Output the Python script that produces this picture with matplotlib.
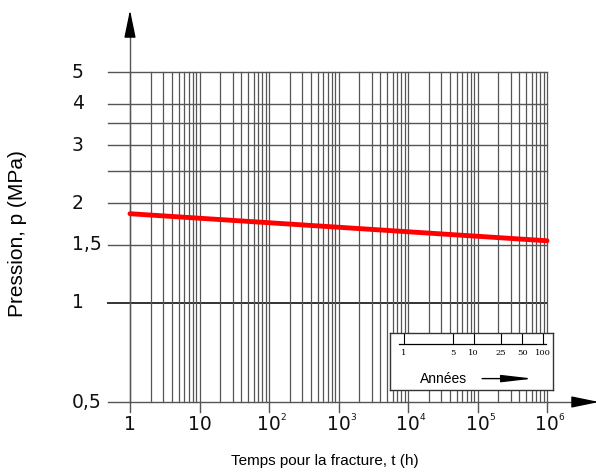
import numpy as np
import matplotlib
matplotlib.use("Agg")
import matplotlib.pyplot as plt

# data
t_hours = [1, 1e6]
pression = [1.86, 1.54]
y_grid = [1, 1.5, 2, 2.5, 3, 3.5, 4, 5]
y_labels = {0.5: "0,5", 1: "1", 1.5: "1,5", 2: "2", 3: "3", 4: "4", 5: "5"}
x_decades = [1, 10, 1e2, 1e3, 1e4, 1e5, 1e6]
x_base = ["1", "10", "10", "10", "10", "10", "10"]
x_exp = ["", "", "2", "3", "4", "5", "6"]
annees_ticks = [1, 5, 10, 25, 50, 100]
h_par_an = 8760

W, H = 596, 472
fig = plt.figure(figsize=(W / 100, H / 100), dpi=100)

# grid area in pixels: x 130..547, y 72 (p=5)..402 (p=0.5)
x0, x1, ytop, ybot = 130, 547, 72, 402
ax = fig.add_axes([x0 / W, 1 - ybot / H, (x1 - x0) / W, (ybot - ytop) / H])
ax.set_xscale("log")
ax.set_yscale("log")
ax.set_xlim(1, 1e6)
ax.set_ylim(0.5, 5)
ax.axis("off")

px_dec_x = (x1 - x0) / 6.0
px_dec_y = (ybot - ytop) / 1.0
left_ext = 10 ** (-(x0 - 108) / px_dec_x)
grid_col = "#555555"

# horizontal grid lines
for y in y_grid:
    col = "#333333" if y == 1 else grid_col
    lw = 1.4 if y == 1 else 1.0
    ax.plot([left_ext, 1e6], [y, y], color=col, lw=lw, clip_on=False, zorder=1)

# vertical grid lines 1..9 per decade
for d in range(6):
    for k in range(1, 10):
        x = k * 10 ** d
        ax.plot([x, x], [0.5, 5], color=grid_col, lw=0.9, clip_on=False, zorder=1)
ax.plot([1e6, 1e6], [0.5, 5], color=grid_col, lw=0.9, clip_on=False, zorder=1)

# decade ticks below axis
y_tick_low = 10 ** (np.log10(0.5) - 10 / px_dec_y)
for x in x_decades:
    ax.plot([x, x], [0.5, y_tick_low], color=grid_col, lw=1.0, clip_on=False)

# axis lines (grey) with black arrow heads
y_top_line = 10 ** (np.log10(5) + 40 / px_dec_y)
ax.plot([1, 1], [0.5, y_top_line], color=grid_col, lw=1.0, clip_on=False)
x_right_line = 10 ** (6 + 33 / px_dec_x)
ax.plot([left_ext, x_right_line], [0.5, 0.5], color=grid_col, lw=1.0, clip_on=False)
head = dict(arrowstyle="-|>,head_length=1.7,head_width=0.35", color="black",
            lw=1.0, shrinkA=0, shrinkB=0)
ax.annotate("", xy=(x0 / W, 1 - 10 / H), xytext=(x0 / W, 1 - 36 / H),
            xycoords="figure fraction", textcoords="figure fraction",
            arrowprops=head)
ax.annotate("", xy=(599 / W, 1 - ybot / H), xytext=(575 / W, 1 - ybot / H),
            xycoords="figure fraction", textcoords="figure fraction",
            arrowprops=head)

# red curve
ax.plot(t_hours, pression, color="#ff0000", lw=3.5, solid_capstyle="round",
        clip_on=False, zorder=5)

# tick labels
lbl_font = dict(fontsize=13.5, color="#111111", family="DejaVu Sans")
for y, s in y_labels.items():
    ax.text(72 / W, 1 - (ytop + (np.log10(5) - np.log10(y)) * px_dec_y) / H, s,
            ha="left", va="center", transform=fig.transFigure, **lbl_font)
y_lab = 10 ** (np.log10(0.5) - 22 / px_dec_y)
for x, b, e in zip(x_decades, x_base, x_exp):
    ax.text(x, y_lab, b, ha="center", va="center", **lbl_font)
    if e:
        ax.annotate(e, xy=(x, y_lab), xytext=(8.5, 5), textcoords="offset points",
                    ha="left", va="center", fontsize=6.5, family="DejaVu Sans",
                    color="#111111", annotation_clip=False)

fig.text(18 / W, 1 - 234 / H, "Pression, p (MPa)", rotation=90,
         ha="center", va="center", fontsize=15, family="Liberation Sans")
fig.text(325 / W, 1 - 461 / H, "Temps pour la fracture, t (h)",
         ha="center", va="center", fontsize=11, family="Liberation Sans")

# inset: years scale, aligned with hours axis
bx0, bx1, by0, by1 = 390, 553, 333, 390
yr_lo = 10 ** ((bx0 - x0) / px_dec_x) / h_par_an
yr_hi = 10 ** ((bx1 - x0) / px_dec_x) / h_par_an
ins = fig.add_axes([bx0 / W, 1 - by1 / H, (bx1 - bx0) / W, (by1 - by0) / H])
ins.set_xscale("log")
ins.set_xlim(yr_lo, yr_hi)
ins.set_ylim(0, 1)
ins.set_xticks([])
ins.set_yticks([])
ins.minorticks_off()
ins.set_facecolor("white")
for sp in ins.spines.values():
    sp.set_linewidth(1.0)
    sp.set_color("#333333")
ins.set_zorder(6)

line_y = 1 - (344 - by0) / (by1 - by0)
ins.plot([0.85, 112], [line_y, line_y], color="black", lw=0.9)
for a in annees_ticks:
    ins.plot([a, a], [line_y, 1], color="black", lw=0.8)
    ins.text(a, line_y - 0.08, str(a), ha="center", va="top", fontsize=6,
             family="DejaVu Serif")
ins.text(3.76, 0.2, "Années", ha="center", va="center", fontsize=10,
         family="Liberation Sans")
ins.annotate("", xy=(72, 0.2), xytext=(13.3, 0.2), xycoords="data",
             arrowprops=dict(arrowstyle="-|>,head_length=1.9,head_width=0.22",
                             color="black", lw=1.0, shrinkA=0, shrinkB=0))

fig.savefig("out.png", dpi=100)
